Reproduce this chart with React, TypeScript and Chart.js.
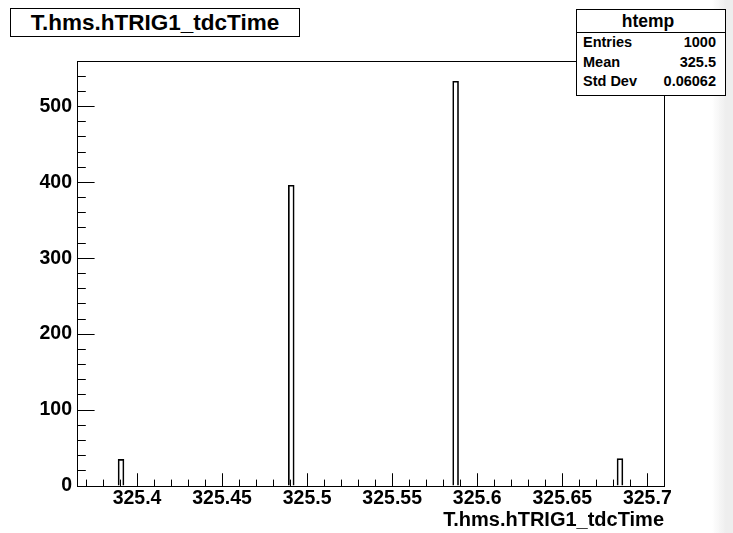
import { useEffect, useRef } from "react";
import { Chart, registerables } from "chart.js";

Chart.register(...registerables);

// ---- data ----
const xMin = 325.3647;
const xMax = 325.7098;
const binCount = 100;
const peakValues = [325.3906, 325.4907, 325.5873, 325.6839];
const peakCounts = [35, 396, 533, 36];
const yMax = 559.65;
const xMajorStep = 0.05;
const xMinorStep = 0.01;
const yMajorStep = 100;
const yMinorStep = 20;
const titleText = "T.hms.hTRIG1_tdcTime";
const axisTitle = "T.hms.hTRIG1_tdcTime";
const statsName = "htemp";
const statsLabels = ["Entries", "Mean", "Std Dev"];
const statsValues = ["1000", "325.5", "0.06062"];

const FONT = "'Liberation Sans', Arial, Helvetica, sans-serif";

function buildHistogram() {
  const bw = (xMax - xMin) / binCount;
  const counts: number[] = new Array(binCount).fill(0);
  peakValues.forEach((v, i) => {
    const idx = Math.floor((v - xMin) / bw);
    if (idx >= 0 && idx < binCount) counts[idx] += peakCounts[i];
  });
  return counts.map((c, i) => ({ x: xMin + (i + 0.5) * bw, y: c }));
}

export default function App() {
  const ref = useRef<HTMLCanvasElement>(null);

  useEffect(() => {
    if (!ref.current) return;
    const points = buildHistogram();
    const tickFont = { family: FONT, size: 19.5, weight: "bold" as const };
    const chart = new Chart(ref.current, {
      type: "bar",
      data: {
        datasets: [
          {
            data: points as any,
            xAxisID: "x",
            yAxisID: "y",
            backgroundColor: "rgba(0,0,0,0)",
            borderColor: "#000",
            borderWidth: 1,
            borderSkipped: "start",
            barPercentage: 1,
            categoryPercentage: 1,
          },
        ],
      },
      options: {
        responsive: false,
        animation: false,
        events: [],
        layout: { padding: { left: 0, right: 69, top: 61, bottom: 0 } },
        plugins: {
          legend: { display: false },
          title: { display: false },
          tooltip: { enabled: false },
        },
        scales: {
          x: {
            type: "linear",
            position: "bottom",
            weight: 1,
            min: xMin,
            max: xMax,
            offset: false,
            grid: {
              display: true,
              drawOnChartArea: false,
              drawTicks: true,
              tickLength: -12.75,
              color: "#000",
              offset: false,
            },
            border: { display: true, color: "#000", width: 1 },
            ticks: {
              stepSize: xMajorStep,
              includeBounds: false,
              autoSkip: false,
              maxRotation: 0,
              minRotation: 0,
              padding: 14,
              color: "#000",
              font: tickFont,
              callback: (v: any) => String(Number(Number(v).toFixed(2))),
            },
            title: {
              display: true,
              text: axisTitle,
              align: "end",
              color: "#000",
              font: { family: FONT, size: 20, weight: "bold" },
              padding: { top: 0, bottom: 1 },
            },
            afterFit: (s: any) => {
              s.height = 47;
            },
          } as any,
          x2: {
            type: "linear",
            position: "bottom",
            weight: 0,
            min: xMin,
            max: xMax,
            offset: false,
            grid: {
              display: true,
              drawOnChartArea: false,
              drawTicks: true,
              tickLength: -6.4,
              color: "#000",
              offset: false,
            },
            border: { display: false },
            ticks: {
              display: false,
              stepSize: xMinorStep,
              includeBounds: false,
              maxTicksLimit: 40,
              autoSkip: false,
              minRotation: 90,
              maxRotation: 90,
              font: { size: 6 },
            },
            afterFit: (s: any) => {
              s.height = 0;
            },
          } as any,
          y: {
            type: "linear",
            position: "left",
            weight: 1,
            min: 0,
            max: yMax,
            grid: {
              display: true,
              drawOnChartArea: false,
              drawTicks: true,
              tickLength: -17.6,
              color: "#000",
            },
            border: { display: true, color: "#000", width: 1 },
            ticks: {
              stepSize: yMajorStep,
              includeBounds: false,
              padding: 22.6,
              color: "#000",
              font: tickFont,
              callback: (v: any) => String(Number(v)),
            },
            afterFit: (s: any) => {
              s.width = 77;
            },
          } as any,
          y2: {
            type: "linear",
            position: "left",
            weight: 0,
            min: 0,
            max: yMax,
            grid: {
              display: true,
              drawOnChartArea: false,
              drawTicks: true,
              tickLength: -8.8,
              color: "#000",
            },
            border: { display: false },
            ticks: {
              display: false,
              stepSize: yMinorStep,
              includeBounds: false,
              maxTicksLimit: 40,
              font: { size: 6 },
            },
            afterFit: (s: any) => {
              s.width = 0;
            },
          } as any,
          xTop: {
            type: "linear",
            axis: "x",
            position: "top",
            offset: false,
            grid: { display: false },
            ticks: { display: false },
            border: { display: true, color: "#000", width: 1 },
            afterFit: (s: any) => {
              s.height = 0;
            },
          } as any,
          yRight: {
            type: "linear",
            axis: "y",
            position: "right",
            grid: { display: false },
            ticks: { display: false },
            border: { display: true, color: "#000", width: 1 },
            afterFit: (s: any) => {
              s.width = 0;
            },
          } as any,
        },
      },
    });
    return () => chart.destroy();
  }, []);

  return (
    <div
      style={{
        position: "fixed",
        left: 0,
        top: 0,
        width: 733,
        height: 533,
        background: "#fff",
        overflow: "hidden",
      }}
    >
      <canvas
        ref={ref}
        width={733}
        height={533}
        style={{ position: "absolute", left: 0, top: 0, width: 733, height: 533 }}
      />
      <div
        style={{
          position: "absolute",
          left: 712,
          top: 0,
          width: 21,
          height: 533,
          background:
            "linear-gradient(to right, rgba(236,236,236,0) 0px, rgb(238,238,238) 14px, rgb(238,238,238) 21px)",
        }}
      />
      <div
        style={{
          position: "absolute",
          left: 10,
          top: 8,
          width: 290,
          height: 29,
          boxSizing: "border-box",
          border: "1px solid #000",
          background: "#fff",
          fontFamily: FONT,
          fontWeight: "bold",
          fontSize: 22.5,
          lineHeight: "27px",
          textAlign: "center",
          color: "#000",
          whiteSpace: "nowrap",
        }}
      >
        {titleText}
      </div>
      <div
        style={{
          position: "absolute",
          left: 576,
          top: 9,
          width: 150,
          height: 87,
          boxSizing: "border-box",
          border: "1px solid #000",
          background: "#fff",
          fontFamily: FONT,
          fontWeight: "bold",
          color: "#000",
          whiteSpace: "nowrap",
        }}
      >
        <div
          style={{
            height: 22,
            lineHeight: "22px",
            borderBottom: "1px solid #000",
            textAlign: "center",
            fontSize: 17.5,
            paddingRight: 6,
          }}
        >
          {statsName}
        </div>
        {statsLabels.map((lab, i) => (
          <div
            key={lab}
            style={{
              display: "flex",
              justifyContent: "space-between",
              height: 19.6,
              lineHeight: "19.6px",
              fontSize: 14.5,
              paddingLeft: 6,
              paddingRight: 9,
            }}
          >
            <span>{lab}</span>
            <span>{statsValues[i]}</span>
          </div>
        ))}
      </div>
    </div>
  );
}
